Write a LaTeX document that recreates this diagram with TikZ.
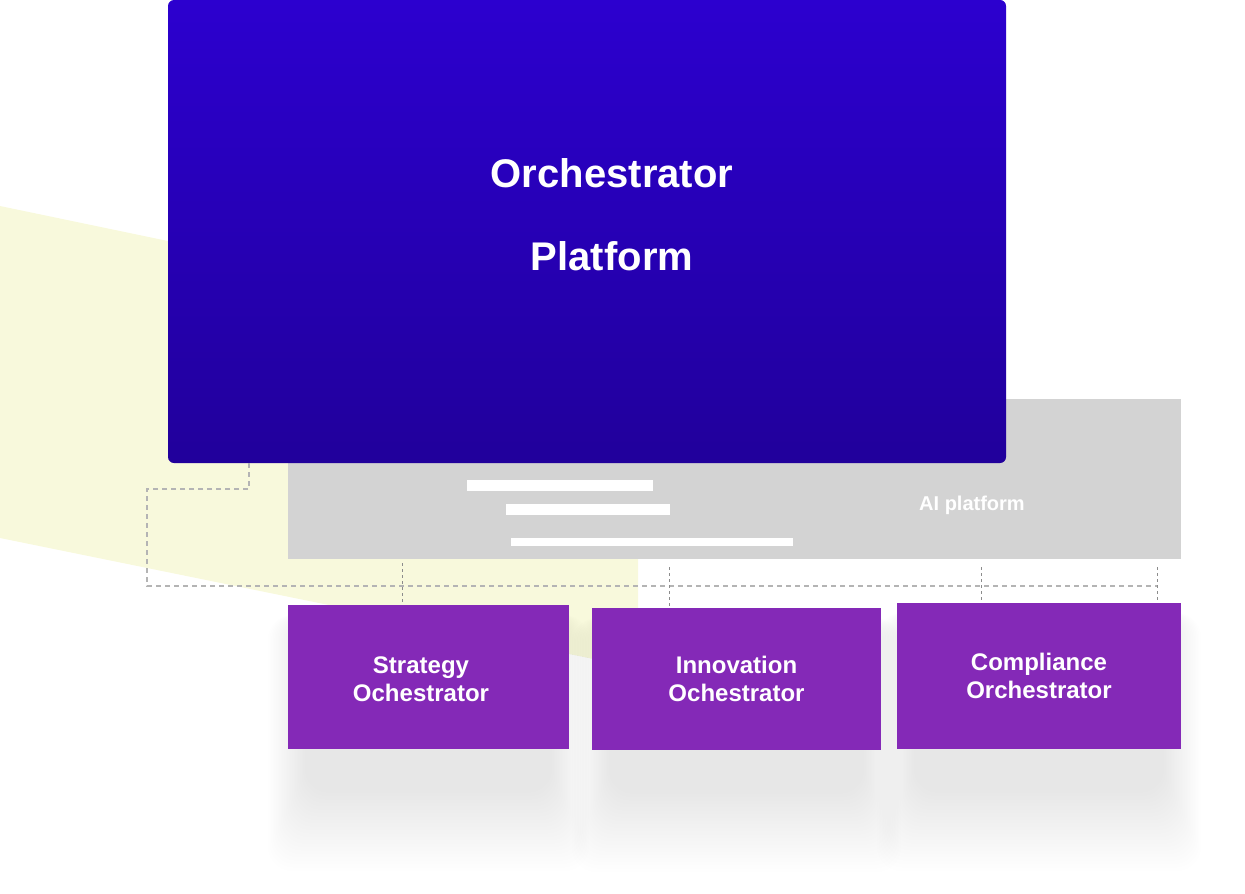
\documentclass[tikz,border=0pt]{standalone}
\usepackage{fontspec}
\setmainfont{Liberation Sans}
\definecolor{indigotop}{HTML}{2C00CF}
\definecolor{indigobot}{HTML}{21009B}
\definecolor{paleyellow}{HTML}{F8F9DC}
\definecolor{slab}{HTML}{D3D3D3}
\definecolor{violet}{HTML}{8429B7}
\definecolor{wiregray}{HTML}{B4B4B4}
\definecolor{dropgray}{HTML}{8C8C8C}

\tikzset{
  orchbox/.style={fill=violet,inner sep=0pt,text=white,align=center,
    font=\fontsize{24}{28}\selectfont\bfseries},
  wire/.style={wiregray,line width=1.1pt,dash pattern=on 5pt off 4pt},
  drop/.style={dropgray,line width=1pt,dash pattern=on 3pt off 3pt},
  bar/.style={fill=white,draw=none}
}
% soft shadow under a box: lower-left x, top y, upper-right x, bottom y
\newcommand{\softshade}[4]{%
  \foreach \k in {0,...,23}
    \fill[black,opacity=0.0032,rounded corners=24pt]
      ({#1-20+1.6*\k},{#2+10}) rectangle ({#3+20-1.6*\k},{#4+122-3.4*\k});
}

\begin{document}
\begin{tikzpicture}[x=1pt,y=-1pt,font=\bfseries]
  \useasboundingbox (0,0) rectangle (1245,894);
  \fill[paleyellow] (0,206) -- (638,339) -- (638,668) -- (0,538) -- cycle;

  % shadows under the orchestrators
  \softshade{288}{605}{569}{749}
  \softshade{592}{608}{881}{750}
  \softshade{897}{603}{1181}{749}

  % grey platform slab
  \node[fill=slab,minimum width=893pt,minimum height=160pt,inner sep=0pt] (slab) at (734.5,479) {};
  \node[text=white,font=\fontsize{20}{22}\selectfont\bfseries] (ailabel) at (972,505) {AI platform};
  \fill[bar] (467,480) rectangle (653,491);
  \fill[bar] (506,504) rectangle (670,515);
  \fill[bar] (511,538) rectangle (793,546);

  % main block
  \node[rounded corners=6pt,top color=indigotop,bottom color=indigobot,
        minimum width=838pt,minimum height=463pt,inner sep=0pt] (orch) at (587,231.5) {};
  \node[text=white,align=center,font=\fontsize{40}{83}\selectfont\bfseries] (title) at (612,215)
     {Orchestrator\\Platform};

  % orchestrators
  \node[orchbox,minimum width=281pt,minimum height=144pt] (strat) at (428.5,677) {};
  \node[text=white,align=center,font=\fontsize{24}{28}\selectfont\bfseries] (stratlabel) at (421,679)
     {Strategy\\Ochestrator};
  \node[orchbox,minimum width=289pt,minimum height=142pt] (innov) at (736.5,679) {Innovation\\Ochestrator};
  \node[orchbox,minimum width=284pt,minimum height=146pt] (comp) at (1039,676) {Compliance\\Orchestrator};

  % dashed wiring
  \coordinate (tap) at (249,463);
  \coordinate (bend) at (147,489);
  \coordinate (busend) at (1157,586);
  \draw[wire] (tap) |- (bend) |- (busend);
  \draw[drop] (402,563) -- (strat.north -| 402,0);
  \draw[drop] (669,567) -- (innov.north -| 669,0);
  \draw[drop] (981,567) -- (comp.north -| 981,0);
  \draw[drop] (1157,567) -- (comp.north -| 1157,0);
\end{tikzpicture}
\end{document}
